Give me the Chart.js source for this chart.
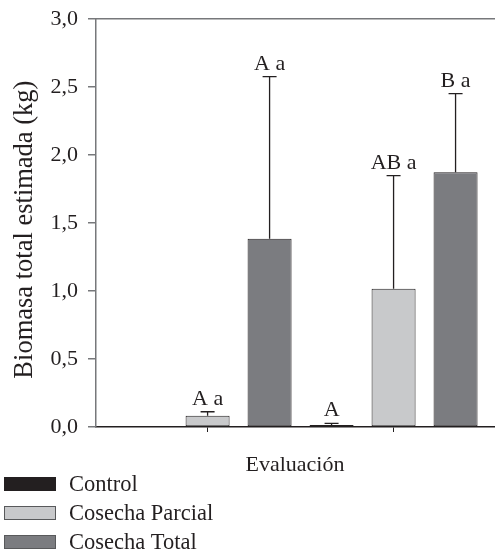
<!DOCTYPE html>
<html>
<head>
<meta charset="utf-8">
<script src="https://cdn.jsdelivr.net/npm/chart.js@4.4.1/dist/chart.umd.min.js"></script>
<style>
  html, body { margin: 0; padding: 0; background: #fff; }
  #c { display: block; }
</style>
</head>
<body>
<canvas id="c" width="495" height="553"></canvas>
<script>
// Two evaluation dates, three treatments each
const evaluations = [1, 2];
const seriesNames = ['Control', 'Cosecha Parcial', 'Cosecha Total'];

// Mean estimated total biomass (kg)
const controlMean = [0, 0.015];
const parcialMean = [0.083, 1.017];
const totalMean   = [1.385, 1.873];

// Upper error (kg)
const controlErr = [0, 0.012];
const parcialErr = [0.029, 0.831];
const totalErr   = [1.191, 0.578];

// Significance letters
const controlLetters = ['', 'A'];
const parcialLetters = ['A a', 'AB a'];
const totalLetters   = ['A a', 'B a'];

// Y tick values
const yTicks = [0, 0.5, 1.0, 1.5, 2.0, 2.5, 3.0];

const SERIF = "'Liberation Serif', 'Times New Roman', serif";
const INK = '#231f20';
const AXIS_GRAY = '#77787b';
const colors = ['#231f20', '#c8c9cb', '#7b7c80'];

const means = [controlMean, parcialMean, totalMean];
const errs = [controlErr, parcialErr, totalErr];
const letters = [controlLetters, parcialLetters, totalLetters];

const datasets = seriesNames.map((name, i) => ({
  label: name,
  data: evaluations.map((x, j) => ({ x: x, y: means[i][j] })),
  errPlus: errs[i],
  letters: letters[i],
  backgroundColor: colors[i],
  borderColor: INK,
  borderWidth: 1,
  borderSkipped: false,
  categoryPercentage: 1.0,
  barPercentage: 0.71
}));

const fmt = v => v.toFixed(1).replace('.', ',');

// Error bars and letters above each bar
const errorBars = {
  id: 'errorBars',
  afterDatasetsDraw(chart) {
    const ctx = chart.ctx;
    const y = chart.scales.y;
    ctx.save();
    chart.data.datasets.forEach((ds, i) => {
      const meta = chart.getDatasetMeta(i);
      meta.data.forEach((bar, j) => {
        const v = ds.data[j].y;
        const e = ds.errPlus[j];
        const top = y.getPixelForValue(v + e);
        if (e > 0) {
          ctx.strokeStyle = INK;
          ctx.lineWidth = 1.3;
          ctx.beginPath();
          ctx.moveTo(bar.x, bar.y);
          ctx.lineTo(bar.x, top);
          ctx.moveTo(bar.x - 7, top);
          ctx.lineTo(bar.x + 7, top);
          ctx.stroke();
        }
        const txt = ds.letters[j];
        if (txt) {
          ctx.fillStyle = INK;
          ctx.font = '22px ' + SERIF;
          ctx.textAlign = 'center';
          ctx.textBaseline = 'alphabetic';
          ctx.fillText(txt, bar.x, top - 7);
        }
      });
    });
    ctx.restore();
  }
};

// Stacked legend in the lower-left corner
const stackedLegend = {
  id: 'stackedLegend',
  afterDraw(chart) {
    const ctx = chart.ctx;
    ctx.save();
    chart.data.datasets.forEach((ds, i) => {
      const top = 477 + i * 29;
      ctx.fillStyle = ds.backgroundColor;
      ctx.fillRect(4, top, 52, 14);
      ctx.strokeStyle = i === 0 ? INK : '#58595b';
      ctx.lineWidth = 1;
      ctx.strokeRect(4.5, top + 0.5, 51, 13);
      ctx.fillStyle = INK;
      ctx.font = '22.5px ' + SERIF;
      ctx.textAlign = 'left';
      ctx.textBaseline = 'middle';
      ctx.fillText(ds.label, 69, top + 8);
    });
    ctx.restore();
  }
};

new Chart(document.getElementById('c'), {
  type: 'bar',
  data: { datasets: datasets },
  options: {
    responsive: false,
    animation: false,
    events: [],
    layout: { padding: { top: 19, right: 1, bottom: 73, left: 0 } },
    plugins: { legend: { display: false }, tooltip: { enabled: false } },
    scales: {
      x: {
        type: 'linear',
        position: 'bottom',
        min: 0.4,
        max: 2.54,
        offset: false,
        afterBuildTicks: s => { s.ticks = evaluations.map(v => ({ value: v })); },
        ticks: { callback: () => '', font: { size: 1 } },
        grid: { offset: false, drawOnChartArea: false, drawTicks: true, tickLength: 5, color: INK, lineWidth: 1 },
        border: { color: INK, width: 1.5 },
        title: {
          display: true,
          text: 'Evaluación',
          color: INK,
          font: { family: SERIF, size: 22 },
          padding: { top: 0, bottom: 2 }
        },
        afterFit: s => { s.height = 53; }
      },
      xTop: {
        type: 'linear',
        position: 'top',
        min: 0.4,
        max: 2.54,
        offset: false,
        ticks: { display: false },
        grid: { display: false, drawTicks: false },
        border: { color: AXIS_GRAY, width: 1.5 },
        afterFit: s => { s.height = 0; }
      },
      y: {
        min: 0,
        max: 3,
        afterBuildTicks: s => { s.ticks = yTicks.map(v => ({ value: v })); },
        ticks: {
          callback: v => fmt(v),
          color: INK,
          font: { family: SERIF, size: 22 },
          padding: 10
        },
        grid: { drawOnChartArea: false, drawTicks: true, tickLength: 8, color: AXIS_GRAY, lineWidth: 1.5 },
        border: { color: AXIS_GRAY, width: 1.5 },
        title: {
          display: true,
          text: 'Biomasa total estimada (kg)\u2002',
          color: INK,
          font: { family: SERIF, size: 26.5 },
          padding: { top: 9, bottom: 0 }
        },
        afterFit: s => { s.width = 96; s.paddingTop = 0; s.paddingBottom = 0; }
      }
    }
  },
  plugins: [errorBars, stackedLegend]
});
</script>
</body>
</html>
